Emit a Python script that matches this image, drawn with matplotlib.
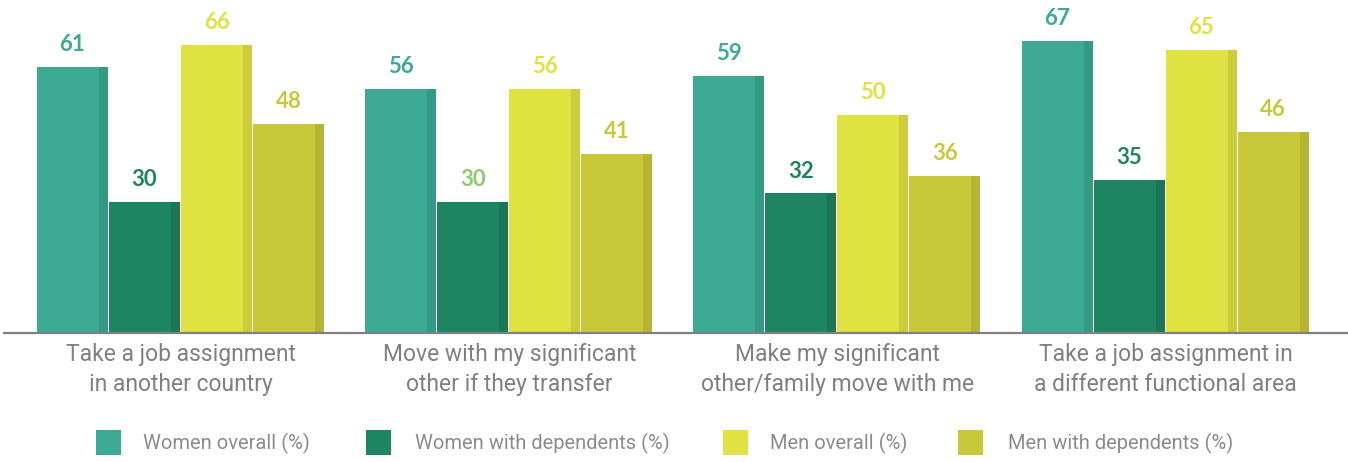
import matplotlib
matplotlib.use("Agg")
import matplotlib.pyplot as plt
from matplotlib.patches import Rectangle

categories = ["Take a job assignment\nin another country",
              "Move with my significant\nother if they transfer",
              "Make my significant\nother/family move with me",
              "Take a job assignment in\na different functional area"]
series_names = ["Women overall (%)", "Women with dependents (%)",
                "Men overall (%)", "Men with dependents (%)"]
women_overall = [61, 56, 59, 67]
women_dependents = [30, 30, 32, 35]
men_overall = [66, 56, 50, 65]
men_dependents = [48, 41, 36, 46]

series = [women_overall, women_dependents, men_overall, men_dependents]
colors = ["#3DAB93", "#1E8462", "#DFE240", "#C9C83B"]
shades = ["#359A83", "#1A7655", "#CBCD3A", "#B5B433"]
label_colors = [["#3DAB93"] * 4,
                ["#1E8462", "#8DCB6A", "#1E8462", "#1E8462"],
                ["#DFE240"] * 4,
                ["#C9C83B"] * 4]

W, H = 1348, 462
fig = plt.figure(figsize=(W / 100, H / 100), dpi=100)
ax = fig.add_axes([4 / W, (H - 333) / H, 1344 / W, 333 / H])
ax.set_xlim(0, 1344 / 72)
ax.set_ylim(0, 333 / 4.36)
for s in ax.spines.values():
    s.set_visible(False)
ax.spines["bottom"].set_visible(True)
ax.spines["bottom"].set_color("#808080")
ax.spines["bottom"].set_linewidth(1.6)
ax.set_yticks([])
ax.tick_params(axis="x", length=0, pad=7)

group_start = 33 / 72
group_step = 328.2 / 72
bw = 71 / 72
shade_w = 9 / 72
centers = []
for g in range(4):
    left0 = group_start + g * group_step
    centers.append(left0 + 2.0)
    for i, vals in enumerate(series):
        x = left0 + i * 1.0
        v = vals[g]
        ax.bar(x, v, width=bw, align="edge", color=colors[i], linewidth=0)
        ax.bar(x + bw - shade_w, v, width=shade_w, align="edge", color=shades[i], linewidth=0)
        ax.annotate(str(v), (x + bw / 2, v), xytext=(0, 11.5), textcoords="offset points",
                    ha="center", va="baseline", fontsize=16, fontweight="bold",
                    family="Lato", color=label_colors[i][g])

ax.set_xticks(centers)
ax.set_xticklabels(categories, fontsize=16.5, color="#808080", family="Roboto",
                   fontweight="normal", linespacing=1.4)

# legend
sq_x = [96, 366, 723, 958]
txt_x = [143, 415, 770, 1008]
for i in range(4):
    fig.patches.append(Rectangle((sq_x[i] / W, (H - 455) / H), 25 / W, 25 / H,
                                 transform=fig.transFigure, color=colors[i], linewidth=0))
    fig.text(txt_x[i] / W, (H - 443) / H, series_names[i], fontsize=14.5, color="#8c8c8c",
             family="Roboto", fontweight="normal", va="center", ha="left")

fig.savefig("out.png", dpi=100)
